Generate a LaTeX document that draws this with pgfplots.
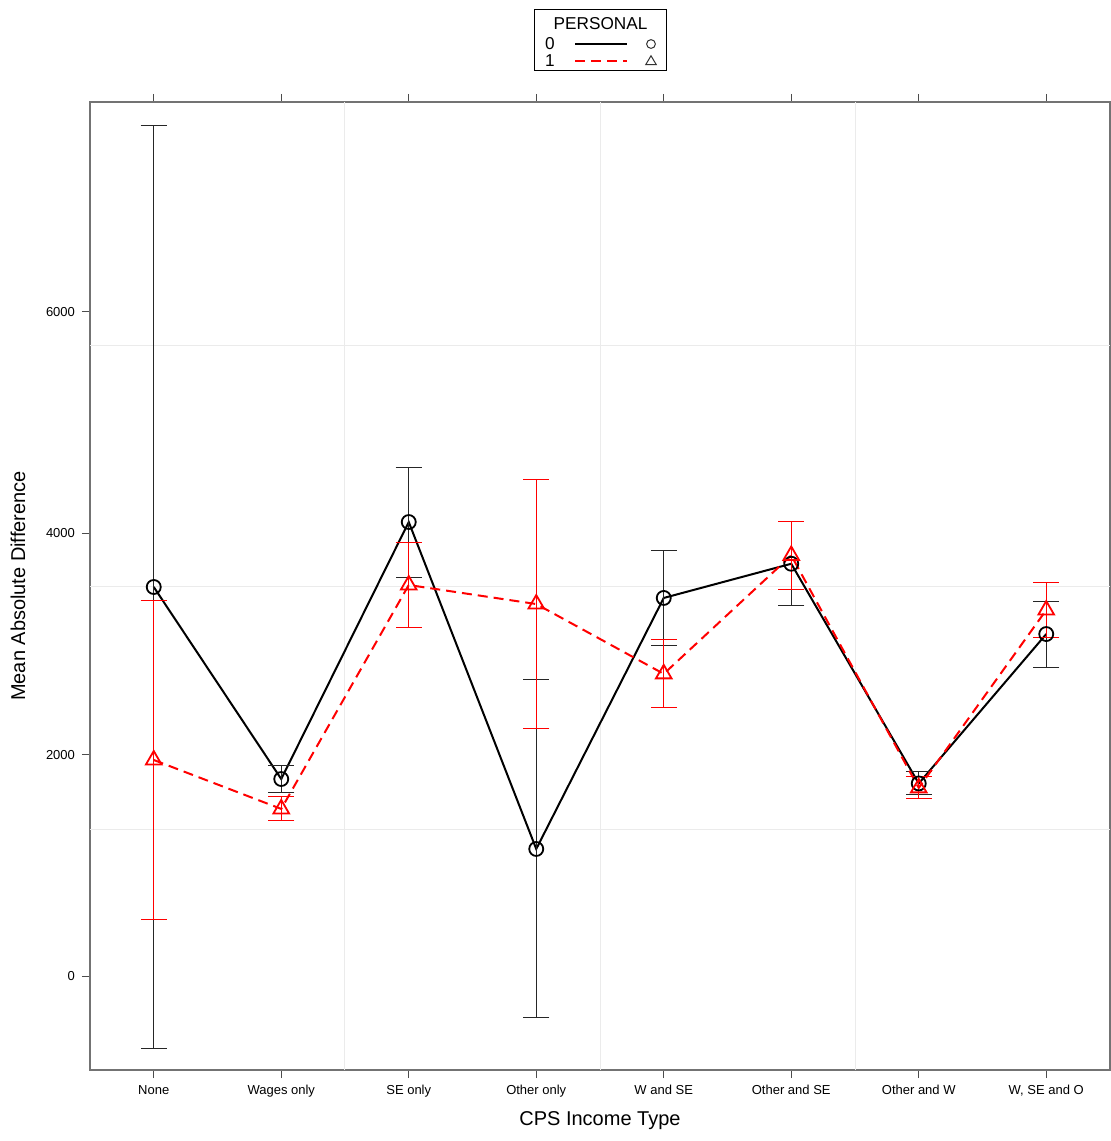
\documentclass[border=0pt]{standalone}
\usepackage{pgfplots}
\pgfplotsset{compat=1.18}
\usepackage{pgfplotstable}
\usepackage{fontspec}
\setmainfont{Liberation Sans}

% mean and half-width of the error bar per income type
\pgfplotstableread{
x y e
0 3515 4166
1 1780 118
2 4102 497
3 1148 1527
4 3416 429
5 3725 380
6 1740 104
7 3090 298
}\persA
\pgfplotstableread{
x y e
0 1952 1437
1 1510 108
2 3533 380
3 3361 1125
4 2730 307
5 3800 306
6 1700 100
7 3307 252
}\persB

\begin{document}
\begin{tikzpicture}
\useasboundingbox (-45pt,-35.5pt) rectangle (510.5pt,535pt);
\begin{axis}[
  scale only axis,
  width=510pt, height=484pt,
  xmin=-0.5, xmax=7.5,
  ymin=-849, ymax=7897,
  clip=false,
  xtick={0,...,7},
  xticklabels={None, Wages only, SE only, Other only, W and SE, Other and SE, Other and W, {W, SE and O}},
  ytick={0,2000,4000,6000},
  xtick pos=both, xticklabel pos=lower,
  ytick pos=left,
  tick align=outside,
  major tick length=4pt,
  tick style={black!70, line width=0.5pt},
  axis line style={black!55, line width=0.8pt},
  tick label style={font=\fontsize{6.5}{7}\selectfont},
  yticklabel style={/pgf/number format/1000 sep={}, /pgf/number format/assume math mode=true},
  extra x ticks={1.5,3.5,5.5},
  extra x tick labels={},
  extra y ticks={1328,3515,5701},
  extra y tick labels={},
  extra tick style={grid=major, major grid style={black!8, line width=0.5pt}, major tick length=0pt},
  xlabel={CPS Income Type},
  ylabel={Mean Absolute Difference},
  label style={font=\fontsize{8.3}{9}\selectfont},
  every axis x label/.style={at={(axis description cs:0.5,-0.0527)}, anchor=center},
  every axis y label/.style={at={(axis description cs:-0.0706,0.5)}, anchor=center, rotate=90},
]

% PERSONAL = 0
\addplot[black, line width=1pt, mark=o, mark size=3.5pt,
  mark options={solid, line width=0.9pt},
  error bars/.cd, y dir=both, y explicit,
  error bar style={black!85, line width=0.5pt, solid},
  error mark options={rotate=90, mark size=6.5pt, line width=0.5pt}]
  table[x=x, y=y, y error=e] {\persA};

% PERSONAL = 1
\addplot[red, line width=1pt, dash pattern=on 5pt off 3pt, mark=triangle, mark size=4.5pt,
  mark options={solid, line width=0.9pt},
  error bars/.cd, y dir=both, y explicit,
  error bar style={red, line width=0.5pt, solid},
  error mark options={rotate=90, mark size=6.5pt, line width=0.5pt}]
  table[x=x, y=y, y error=e] {\persB};

% key anchors above the panel
\coordinate (kbl) at (axis description cs:0.436,1.033);
\coordinate (ktr) at (axis description cs:0.565,1.096);
\coordinate (ktitle) at (axis description cs:0.5005,1.0806);
\coordinate (klab0) at (axis description cs:0.451,1.0599);
\coordinate (klab1) at (axis description cs:0.451,1.0424);
\coordinate (kl0a) at (axis description cs:0.4755,1.0599);
\coordinate (kl0b) at (axis description cs:0.5265,1.0599);
\coordinate (kl1a) at (axis description cs:0.4755,1.0424);
\coordinate (kl1b) at (axis description cs:0.5265,1.0424);
\coordinate (km0) at (axis description cs:0.55,1.0599);
\coordinate (km1) at (axis description cs:0.55,1.0424);
\end{axis}

\draw[black, line width=0.5pt, fill=white] (kbl) rectangle (ktr);
\node[font=\fontsize{8.6}{9}\selectfont] at (ktitle) {PERSONAL};
\node[font=\fontsize{8.6}{9}\selectfont] at (klab0) {0};
\node[font=\fontsize{8.6}{9}\selectfont] at (klab1) {1};
\draw[black, line width=1pt] (kl0a) -- (kl0b);
\draw[red, line width=1pt, dash pattern=on 5pt off 3pt] (kl1a) -- (kl1b);
\draw[black!80, line width=0.5pt] (km0) circle (2.2pt);
\draw[black!80, line width=0.5pt] (km1) ++(0,2.6pt) -- ++(-2.6pt,-4.4pt) -- ++(5.2pt,0) -- cycle;
\end{tikzpicture}
\end{document}
